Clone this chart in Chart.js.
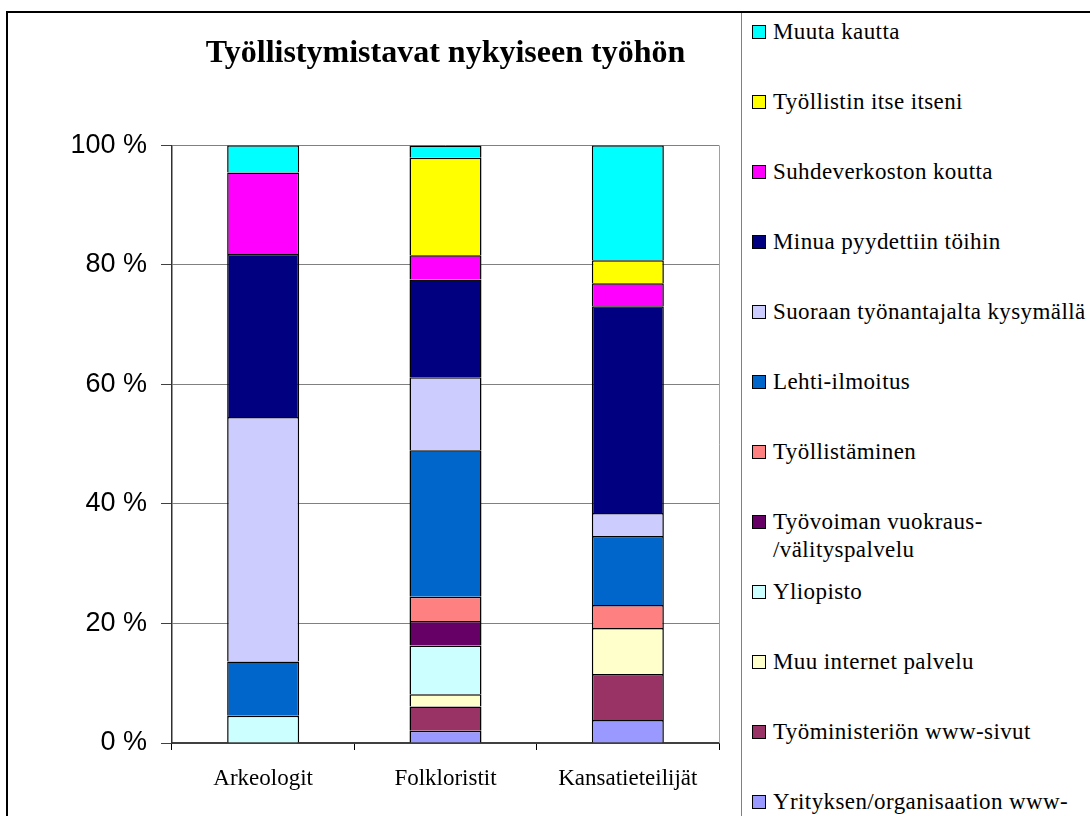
<!DOCTYPE html>
<html lang="fi">
<head>
<meta charset="utf-8">
<title>Työllistymistavat nykyiseen työhön</title>
<script src="https://cdn.jsdelivr.net/npm/chart.js@4.4.1/dist/chart.umd.min.js"></script>
<style>
  html, body { margin: 0; padding: 0; background: #fff; overflow: hidden; }
  body { width: 1090px; height: 816px; position: relative; }
  #frame { position: absolute; left: 6px; top: 11px; width: 1200px; height: 900px; border: 2px solid #000; box-sizing: border-box; }
  #chartBox { position: absolute; left: 0; top: 0; width: 741px; height: 816px; }
  #legend { position: absolute; left: 741px; top: 13px; width: 400px; height: 900px; border-left: 1px solid #808080;
            font-family: 'Liberation Serif', 'Times New Roman', serif; font-size: 23px; letter-spacing: 0.4px; color: #000; }
  #legend ul { list-style: none; margin: 0; padding: 5px 0 0 0; }
  #legend li { position: relative; height: 70px; padding-left: 31px; line-height: 28px; width: 322px; }
  #legend .swatch { position: absolute; left: 10px; top: 7px; width: 12px; height: 12px; border: 1px solid #000; }
</style>
</head>
<body>
<div id="frame"></div>
<div id="chartBox"><canvas id="jobChart" width="741" height="816"></canvas></div>
<div id="legend"><ul id="legendList"></ul></div>

<script>
const chartTitle = 'Työllistymistavat nykyiseen työhön';
const categories = ['Arkeologit', 'Folkloristit', 'Kansatieteilijät'];
const yTicks = [0, 20, 40, 60, 80, 100];

// stacked from the bottom up (%)
const yritysWww      = [0,     2.04,  3.85];
const tyoministerio  = [0,     4.08,  7.69];
const muuInternet    = [0,     2.04,  7.69];
const yliopisto      = [4.55,  8.16,  0];
const tyovoima       = [0,     4.08,  0];
const tyollistaminen = [0,     4.08,  3.85];
const lehti          = [9.09,  24.49, 11.54];
const suoraan        = [40.91, 12.24, 3.85];
const minuaPyyd      = [27.27, 16.33, 34.62];
const suhdeverkosto  = [13.64, 4.08,  3.85];
const tyollistinItse = [0,     16.33, 3.85];
const muutaKautta    = [4.55,  2.04,  19.23];

const seriesNames = [
  'Yrityksen/organisaation www-sivut',
  'Työministeriön www-sivut',
  'Muu internet palvelu',
  'Yliopisto',
  'Työvoiman vuokraus-/välityspalvelu',
  'Työllistäminen',
  'Lehti-ilmoitus',
  'Suoraan työnantajalta kysymällä',
  'Minua pyydettiin töihin',
  'Suhdeverkoston koutta',
  'Työllistin itse itseni',
  'Muuta kautta'
];
const seriesValues = [yritysWww, tyoministerio, muuInternet, yliopisto, tyovoima, tyollistaminen,
                      lehti, suoraan, minuaPyyd, suhdeverkosto, tyollistinItse, muutaKautta];
const seriesColors = ['#9999FF', '#993366', '#FFFFCC', '#CCFFFF', '#660066', '#FF8080',
                      '#0066CC', '#CCCCFF', '#000080', '#FF00FF', '#FFFF00', '#00FFFF'];

// right edge of the plot area
const plotFrame = {
  id: 'plotFrame',
  beforeDatasetsDraw(chart) {
    const { ctx, chartArea } = chart;
    ctx.save();
    ctx.strokeStyle = '#a0a0a0';
    ctx.lineWidth = 1;
    ctx.beginPath();
    ctx.moveTo(chartArea.right + 0.5, chartArea.top);
    ctx.lineTo(chartArea.right + 0.5, chartArea.bottom);
    ctx.stroke();
    ctx.restore();
  }
};

// legend as html, top item = last dataset
const htmlLegend = {
  id: 'htmlLegend',
  afterUpdate(chart) {
    const list = document.getElementById('legendList');
    const items = chart.options.plugins.legend.labels.generateLabels(chart).slice().reverse();
    list.innerHTML = items.map(item => `
      <li><span class="swatch" style="background:${item.fillStyle}"></span>${item.text.replace('-/', '-<wbr>/')}</li>
    `).join('');
  }
};

const ctx = document.getElementById('jobChart').getContext('2d');
new Chart(ctx, {
  type: 'bar',
  data: {
    labels: categories,
    datasets: seriesNames.map((name, i) => ({
      label: name,
      data: seriesValues[i],
      backgroundColor: seriesColors[i],
      borderColor: '#000',
      borderWidth: 1.5,
      barPercentage: 0.395,
      categoryPercentage: 1.0
    }))
  },
  options: {
    responsive: false,
    animation: false,
    layout: { padding: { left: 20, right: 22, top: 0, bottom: 0 } },
    plugins: {
      legend: { display: false },
      title: {
        display: true,
        text: chartTitle,
        fullSize: false,
        color: '#000',
        font: { family: "'Liberation Serif', 'Times New Roman', serif", size: 32, weight: 'bold' },
        padding: { top: 35, bottom: 72 }
      },
      tooltip: { enabled: true }
    },
    scales: {
      x: {
        stacked: true,
        offset: true,
        grid: { offset: true, drawOnChartArea: false, drawTicks: true, tickLength: 7, tickColor: '#000', lineWidth: 1 },
        border: { color: '#404040', width: 2 },
        ticks: {
          color: '#000',
          padding: 15,
          font: { family: "'Liberation Serif', 'Times New Roman', serif", size: 23 }
        },
        afterFit: scale => { scale.height = 73; }
      },
      y: {
        stacked: true,
        min: yTicks[0],
        max: yTicks[yTicks.length - 1],
        afterBuildTicks: scale => { scale.ticks = yTicks.map(v => ({ value: v })); },
        grid: { color: '#808080', lineWidth: 1, tickLength: 11, tickColor: '#404040' },
        border: { color: '#303030', width: 1.5 },
        ticks: {
          color: '#000',
          padding: 14,
          font: { family: "'Liberation Sans', Arial, sans-serif", size: 27 },
          callback: v => v + ' %'
        },
        afterFit: scale => { scale.width = 152; }
      }
    }
  },
  plugins: [plotFrame, htmlLegend]
});
</script>
</body>
</html>
